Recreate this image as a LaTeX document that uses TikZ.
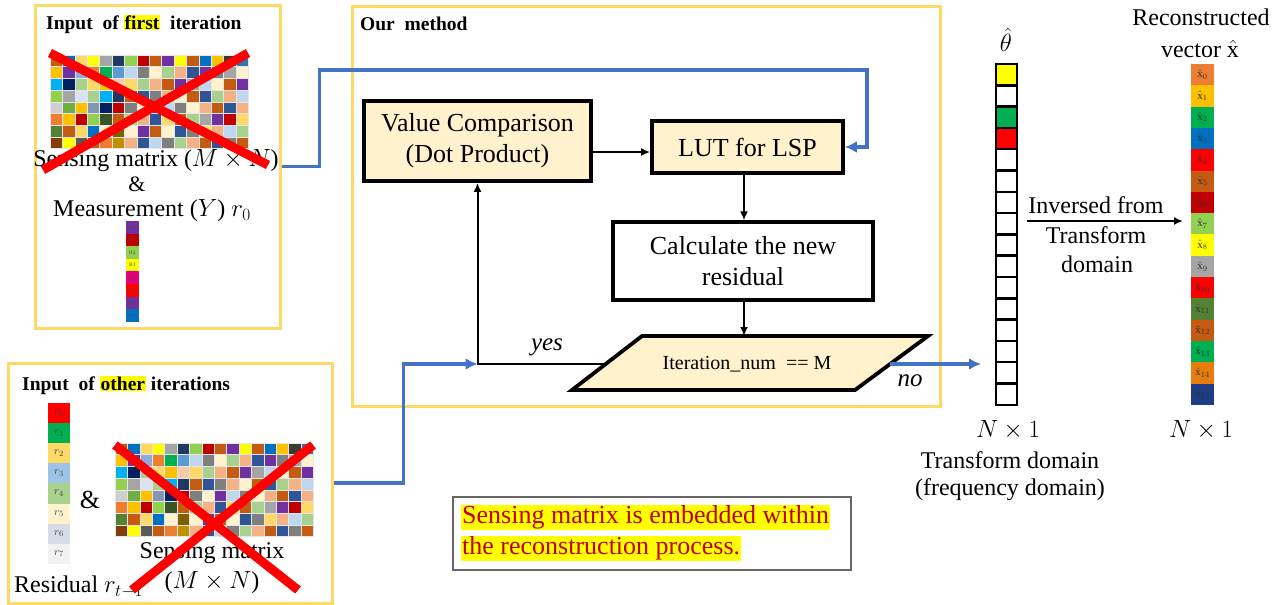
\documentclass[tikz,border=0pt]{standalone}
\usepackage{fontspec}
\setmainfont{Liberation Serif}
\usetikzlibrary{arrows.meta}
\definecolor{cbr}{HTML}{C55A11}
\definecolor{cbl}{HTML}{0070C0}
\definecolor{clo}{HTML}{FFD966}
\definecolor{cye}{HTML}{FFFF00}
\definecolor{cgy}{HTML}{A5A5A5}
\definecolor{cdb}{HTML}{203864}
\definecolor{cgr}{HTML}{92D050}
\definecolor{cdr}{HTML}{C00000}
\definecolor{cpu}{HTML}{7030A0}
\definecolor{cgo}{HTML}{FFC000}
\definecolor{cdg}{HTML}{3B3838}
\definecolor{cmb}{HTML}{2E75B6}
\definecolor{clb}{HTML}{8FAADC}
\definecolor{cor}{HTML}{ED7D31}
\definecolor{cgn}{HTML}{00B050}
\definecolor{csb}{HTML}{5B9BD5}
\definecolor{cpb}{HTML}{BDD7EE}
\definecolor{cmg}{HTML}{7F7F7F}
\definecolor{ccr}{HTML}{FFF2CC}
\definecolor{clg}{HTML}{A9D18E}
\definecolor{csa}{HTML}{F4B183}
\definecolor{cnb}{HTML}{2F5597}
\definecolor{ccy}{HTML}{00B0F0}
\definecolor{cpe}{HTML}{F8CBAD}
\definecolor{cla}{HTML}{DAE3F3}
\definecolor{clgy}{HTML}{D0CECE}
\definecolor{cgnb}{HTML}{70AD47}
\definecolor{csl}{HTML}{8497B0}
\definecolor{cnv}{HTML}{002060}
\definecolor{cdgr}{HTML}{375623}
\definecolor{cdgn}{HTML}{548235}
\definecolor{col}{HTML}{7F6000}
\definecolor{cdbr}{HTML}{843C0C}
\definecolor{cdgy}{HTML}{595959}
\definecolor{cdgo}{HTML}{BF9000}
\definecolor{cred}{HTML}{FF0000}
\definecolor{cmag}{HTML}{E6007E}
\definecolor{clbb}{HTML}{9DC3E6}
\definecolor{cgrl}{HTML}{D6DCE5}
\definecolor{cwh}{HTML}{F2F2F2}
\definecolor{corr}{HTML}{E87D0D}
\definecolor{cnvb}{HTML}{1F3C88}
\definecolor{cblue}{HTML}{4472C4}
\definecolor{nred}{HTML}{C00000}
\newcommand\hly[1]{{\setlength{\fboxsep}{1pt}\colorbox{cye}{#1}}}
\newcommand\colmatrix[2]{%
  \foreach \rowcols [count=\r from 0] in {%
    {cbr,cbl,clo,cye,cgy,cdb,cgr,cdr,cbr,cpu,cye,cbr,cbl,cgo,cdg,cmb},%
    {cgo,cpu,clb,cor,cgn,csb,cpb,cmg,ccr,clg,csa,cnb,cpu,cmg,cgy,ccr},%
    {ccy,cnv,clg,clo,cgo,cpe,clo,clg,csa,cbr,cpu,cgy,cpb,ccr,cbr,cpu},%
    {cgr,cgy,cla,clg,ccy,cdb,cbr,cnb,cmg,csa,ccr,cbr,cnb,clg,csa,cpb},%
    {clgy,cgnb,cgo,csl,cnv,cdr,cmg,ccr,cpu,cpb,cmg,ccr,csa,cbr,cnb,csa},%
    {cor,cgo,cdr,cgr,cdgr,cbr,clg,csa,cnb,clo,cbr,clg,cgy,cpu,cdr,clo},%
    {cdgn,cbr,clo,cbl,ccr,col,ccr,cpu,cbr,ccr,cnb,cmg,clo,csa,cpb,clg},%
    {cdbr,cye,cdgy,cbr,cor,cdgo,csa,cnb,cpb,cmg,clg,csa,cbr,cnb,cmg,cbr}%
  }{%
    \foreach \cc [count=\k from 0] in \rowcols {%
      \filldraw[fill=\cc, draw=white!80!gray, line width=0.6pt]
        ({#1+\k*12.4},{#2+\r*11.7}) rectangle ++(12.4,11.7);
    }%
  }%
}
\tikzset{
  ybox/.style={draw=clo, line width=3pt, inner sep=0pt},
  proc/.style={draw=black, line width=3.8pt, fill=ccr, align=center, inner sep=0pt, font=\fontsize{26}{31}\selectfont},
  barrow/.style={draw=black, line width=2pt, -{Latex[length=9pt,width=8pt]}},
  bluearrow/.style={draw=cblue, line width=3.5pt, -{Latex[length=12pt,width=12pt]}},
  redx/.style={draw=cred, line width=9pt},
  lbl/.style={font=\fontsize{24}{28}\selectfont, inner sep=0pt},
  ilbl/.style={font=\fontsize{25}{28}\selectfont\itshape, inner sep=0pt},
  ttl/.style={font=\fontsize{19.5}{22}\selectfont\bfseries, inner sep=0pt, anchor=west},
  tiny/.style={font=\fontsize{6}{6}\selectfont, inner sep=0pt},
  small/.style={font=\fontsize{11}{11}\selectfont, inner sep=0pt},
}
\begin{document}
\begin{tikzpicture}[x=1pt,y=-1pt]
\path[use as bounding box, fill=white] (0,0) rectangle (1280,605);

% ---------- outer boxes
\node[ybox, minimum width=245pt, minimum height=323pt] (box1) at (157.5,166.5) {};
\node[ybox, minimum width=324pt, minimum height=240pt] (box2) at (170,483) {};
\node[ybox, minimum width=588pt, minimum height=400pt] (box3) at (646,206) {};

% ---------- box 1
\node[ttl] (t1) at (46,24) {Input\ \ of \hly{first}\ \ iteration};
\colmatrix{50}{55}
\node[lbl] (sens1) at (156,161) {Sensing matrix ($M\times N$)};
\node[lbl, font=\fontsize{22}{24}\selectfont] (amp1) at (137,184) {\&};
\node[lbl] (meas) at (152,211) {Measurement ($Y$) $r_0$};
\foreach \cc [count=\k from 0] in {cpu,cdr,cgr,cye,cmag,cred,cpu,cbl} {
  \fill[fill=\cc] (126,{221+\k*12.6}) rectangle ++(13,12.6);
  \node[tiny, text=black!70] (y\k) at (132.5,{221+\k*12.6+6.3}) {$y_{\k}$};
}
\draw[redx] (50,53) -- (268,165);
\draw[redx] (248,53) -- (43,170);

% ---------- box 2
\node[ttl] (t2) at (22,385) {Input\ \ of \hly{other} iterations};
\foreach \cc [count=\k from 0] in {cred,cgn,clo,clbb,clg,ccr,cgrl,cwh} {
  \fill[fill=\cc] (48,{403+\k*20.1}) rectangle ++(22,20.1);
  \node[small, text=black!75] (r\k) at (59,{403+\k*20.1+10}) {$r_{\k}$};
}
\node[lbl, font=\fontsize{26}{28}\selectfont] (amp2) at (90,500) {\&};
\colmatrix{115}{443}
\node[lbl] (sens2) at (212,553) {Sensing matrix};
\node[lbl] (mn2) at (212,583) {($M\times N$)};
\node[lbl, anchor=west] (resid) at (14,587) {Residual $r_{t-1}$};
\draw[redx] (115,445) -- (298,590);
\draw[redx] (313,445) -- (132,590);

% ---------- our method
\node[ttl] (t3) at (360,24) {Our\ \ method};
\node[proc, minimum width=227pt, minimum height=80pt] (VC) at (477.5,141) {Value Comparison\\(Dot Product)};
\node[proc, minimum width=191pt, minimum height=52pt] (LUT) at (747.5,147) {LUT for LSP};
\node[proc, fill=white, line width=3.2pt, minimum width=260pt, minimum height=78pt] (calc) at (743,261) {Calculate the new\\residual};
\filldraw[fill=ccr, draw=black, line width=3.8pt, line join=miter] (642,336) -- (928,336) -- (855,390) -- (572,390) -- cycle;
\node[font=\fontsize{20}{24}\selectfont, inner sep=0pt] (iter) at (747,364) {Iteration\_num\ \ == M};
\coordinate (pTop) at (744,336);
\coordinate (pL) at (606,364);
\coordinate (pR) at (890,364);
\coordinate (join) at (VC.south |- pL);
\coordinate (topR) at (867,70);
\coordinate (noEnd) at (981,364);

\draw[barrow] ([yshift=-5pt]LUT.west -| VC.east) -- ([yshift=-5pt]LUT.west);
\draw[barrow] (LUT.south -| pTop) -- (calc.north -| pTop);
\draw[barrow] (calc.south -| pTop) -- (pTop);
\draw[barrow] (pL) -| (VC.south);
\node[ilbl] (yes) at (547,347) {yes};
\node[ilbl] (no) at (910,381) {no};

\draw[bluearrow] (box1.east) -- ++(38,0) |- (topR) |- (LUT.east);
\draw[bluearrow] (box2.east) -- ++(70,0) |- (join);
\draw[bluearrow] (pR) -- (noEnd);

% ---------- theta column
\node[minimum width=21pt, minimum height=341pt, inner sep=0pt, outer sep=0pt] (theta) at (1006.5,234.5) {};
\foreach \cc [count=\k from 0] in {cye,white,cgn,cred,white,white,white,white,white,white,white,white,white,white,white,white} {
  \filldraw[fill=\cc, draw=black, line width=2.5pt] (996,{64+\k*21.3}) rectangle ++(21,21.3);
}
\node[lbl] (thlab) at (1006,40) {$\hat{\theta}$};
\node[lbl] (n1) at (1008,430) {$N\times 1$};
\node[lbl] (td1) at (1010,460) {Transform domain};
\node[lbl] (td2) at (1010,490) {(frequency domain)};

% ---------- xhat column
\node[minimum width=23pt, minimum height=341pt, inner sep=0pt, outer sep=0pt] (xhat) at (1202.5,234.5) {};
\foreach \cc [count=\k from 0] in {cor,cgo,cgn,cbl,cred,cbr,cdr,cgr,cye,cgy,cred,cdgn,cbr,cgn,corr,cnvb} {
  \fill[fill=\cc] (1191,{64+\k*21.3}) rectangle ++(23,21.3);
  \node[small, text=black!80] (x\k) at (1202.5,{64+\k*21.3+10.6}) {$\hat{\mathrm{x}}_{\k}$};
}
\node[lbl] (rec1) at (1201,17) {Reconstructed};
\node[lbl] (rec2) at (1200,49) {vector $\hat{\mathrm{x}}$};
\node[lbl] (n2) at (1201,430) {$N\times 1$};

\coordinate (invY) at (0,221);
\draw[barrow] ([xshift=10pt]theta.east |- invY) -- ([xshift=-8pt]xhat.west |- invY);
\node[lbl] (inv1) at (1096,205) {Inversed from};
\node[lbl] (inv2) at (1096,235) {Transform};
\node[lbl] (inv3) at (1097,264) {domain};

% ---------- note
\node[draw=black!60, line width=2pt, minimum width=398pt, minimum height=73pt, inner sep=0pt, anchor=north west] (note) at (452,496) {};
\node[anchor=west, align=left, font=\fontsize{26}{31}\selectfont, text=nred, inner sep=0pt] (notetext) at (461,533) {\hly{Sensing matrix is embedded within}\\\hly{the reconstruction process.}};
\end{tikzpicture}
\end{document}
